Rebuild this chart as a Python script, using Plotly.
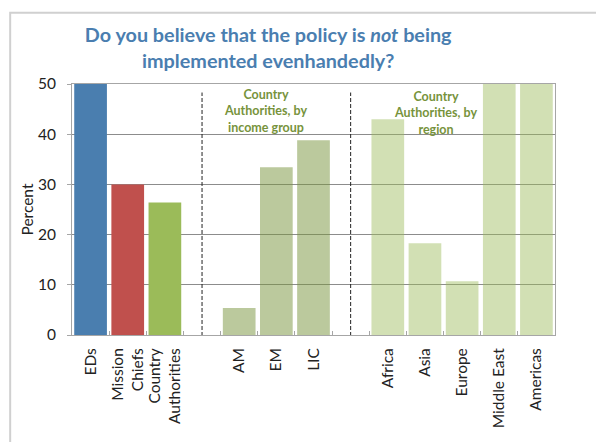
import plotly.graph_objects as go

# Respondent groups; blank entries are spacer slots between the three groups
categories = ["EDs", "Mission<br>Chiefs", "Country<br>Authorities", " ",
              "AM", "EM", "LIC", "  ",
              "Africa", "Asia", "Europe", "Middle East", "Americas"]
percent = [50, 30, 26.4, None,
           5.4, 33.4, 38.8, None,
           43.0, 18.3, 10.7, 50, 50]
bar_colors = ["#4A7EAF", "#C0504D", "#9BBB59", "rgba(0,0,0,0)",
              "rgba(120,148,60,0.5)", "rgba(120,148,60,0.5)", "rgba(120,148,60,0.5)",
              "rgba(0,0,0,0)",
              "rgba(155,187,89,0.45)", "rgba(155,187,89,0.45)", "rgba(155,187,89,0.45)",
              "rgba(155,187,89,0.45)", "rgba(155,187,89,0.45)"]
y_ticks = [0, 10, 20, 30, 40, 50]
group_notes = ["Country<br>Authorities, by<br>income group",
               "Country<br>Authorities, by<br>region"]

FONT = "Lato"
TITLE_BLUE = "#4A7EB0"
NOTE_GREEN = "#77933C"
LABEL_SIZE = 15.5

fig = go.Figure(go.Bar(
    x=categories, y=percent,
    marker=dict(color=bar_colors, line=dict(width=0)),
    hoverinfo="x+y",
))

# dashed separators in the two spacer slots
shapes = []
for spacer in (" ", "  "):
    i = categories.index(spacer)
    shapes.append(dict(type="line", xref="x", yref="y", x0=i, x1=i, y0=-0.2, y1=48.3,
                       line=dict(color="#222222", width=1, dash="4px,2px")))
# outer chart frame
shapes.append(dict(type="rect", xref="paper", yref="paper",
                   x0=-0.128, x1=1.3, y0=-0.6, y1=1.284,
                   line=dict(color="#D0D0D0", width=2), layer="below"))

annotations = [
    dict(text=group_notes[0], xref="paper", yref="paper", x=0.40, y=0.995,
         xanchor="center", yanchor="top", showarrow=False,
         font=dict(family=FONT, size=12.5, color=NOTE_GREEN, weight="bold")),
    dict(text=group_notes[1], xref="paper", yref="paper", x=0.752, y=0.99,
         xanchor="center", yanchor="top", showarrow=False,
         font=dict(family=FONT, size=12.5, color=NOTE_GREEN, weight="bold")),
]

fig.update_layout(
    width=596, height=442,
    margin=dict(l=72, r=41, t=84, b=107),
    paper_bgcolor="white", plot_bgcolor="white",
    bargap=0.12,
    showlegend=False,
    title=dict(text="Do you believe that the policy is <i>not</i> being<br>implemented evenhandedly?",
               x=0.45, xanchor="center", y=0.905, yanchor="middle",
               font=dict(family=FONT, size=19.8, color=TITLE_BLUE, weight="bold")),
    font=dict(family=FONT, size=LABEL_SIZE, color="#222222"),
    shapes=shapes,
    annotations=annotations,
)

fig.update_xaxes(
    type="category", categoryorder="array", categoryarray=categories,
    tickangle=-90, tickfont=dict(family=FONT, size=LABEL_SIZE, color="#222222"),
    ticks="inside", ticklen=4, tickcolor="#A6A6A6", tickson="boundaries",
    showline=True, linecolor="#A6A6A6", linewidth=1, mirror=True,
    showgrid=False, ticklabelstandoff=6,
)
fig.update_yaxes(
    range=[0, 50], tickvals=y_ticks,
    tickfont=dict(family=FONT, size=LABEL_SIZE, color="#222222"),
    ticks="outside", ticklen=4, tickcolor="#A6A6A6",
    showline=True, linecolor="#A6A6A6", linewidth=1, mirror=True,
    showgrid=True, gridcolor="#8C8C8C", gridwidth=1,
    zeroline=False, ticklabelstandoff=8,
    title=dict(text="Percent", font=dict(family=FONT, size=LABEL_SIZE, color="#222222"), standoff=0),
)

fig.write_html("out.html")
